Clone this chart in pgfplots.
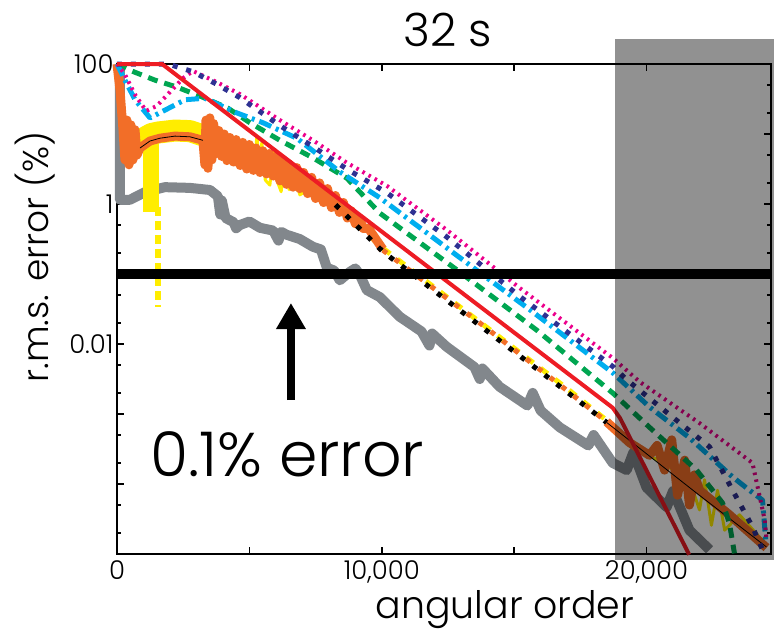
\documentclass[border=0pt]{standalone}
\usepackage{fontspec}
\IfFontExistsTF{Poppins Light}{\setmainfont{Poppins Light}}{\setmainfont{Poppins}}
\usepackage{pgfplots}
\pgfplotsset{compat=1.18}
\usetikzlibrary{arrows.meta}
\definecolor{cpink}{RGB}{236,0,140}
\definecolor{cnavy}{RGB}{46,49,146}
\definecolor{ccyan}{RGB}{0,174,239}
\definecolor{cgreen}{RGB}{0,166,81}
\definecolor{cred}{RGB}{237,28,36}
\definecolor{corange}{RGB}{242,110,40}
\definecolor{cyellow}{RGB}{255,237,0}
\definecolor{cgray}{RGB}{130,135,140}
\begin{document}
\begin{tikzpicture}
\begin{axis}[
  scale only axis, width=654bp, height=490bp,
  xmin=0, xmax=24700, ymin=1e-5, ymax=100, ymode=log,
  clip=false, scaled x ticks=false,
  xtick={0,5000,10000,15000,20000},
  xticklabels={0,,10{,}000,,20{,}000},
  ytick={1e-5,1e-4,1e-3,1e-2,1e-1,1,10,100},
  yticklabels={,,,0.01,,1,,100},
  minor ytick={2e-5,5e-5,2e-4,5e-4,2e-3,5e-3,2e-2,5e-2,0.2,0.5,2,5,20,50},
  tick align=inside,
  major tick length=7bp, minor tick length=4bp,
  tick style={black, line width=1.5bp},
  axis line style={line width=1.5bp},
  ticklabel style={font=\fontsize{26}{26}\selectfont},
  xticklabel style={yshift=-3bp},
  every axis plot/.append style={line join=round},
]
% gray
\addplot[cgray, line width=10bp] coordinates {
(113,100) (113,1.15) (490,1.15) (1060,1.48) (1810,1.74) (2755,1.70) (3510,1.585)
(3810,1.29) (3900,0.708) (3960,1.12) (4100,0.631) (4400,0.55) (4500,0.45) (4640,0.501) (5000,0.562)
(5400,0.457) (5900,0.417) (6100,0.30) (6200,0.40) (6415,0.363) (6900,0.316) (7400,0.245)
(7700,0.224) (7925,0.123) (8200,0.112) (8415,0.0813) (8790,0.107) (9000,0.12)
(9170,0.0977) (9435,0.0589) (9925,0.0468) (10680,0.0245) (11500,0.0151)
(11800,0.0095) (11900,0.0141) (12450,0.00912) (13500,0.00468) (13700,0.00316)
(13800,0.00447) (14450,0.00245) (15500,0.00132) (15700,0.002) (16000,0.00112)
(16720,6.46e-4) (17800,3.55e-4) (18000,5.01e-4) (18720,2.0e-4) (19250,1.58e-4)
(19500,2.82e-4) (20000,8.91e-5) (20760,4.68e-5) (21000,7.94e-5) (21620,2.19e-5)
(22380,1.15e-5)};
% yellow early band
\addplot[cyellow, line width=22bp] coordinates {
(868,7.41) (1057,8.91) (1300,10.0) (1547,10.5) (2189,11.2) (2755,11.0) (3245,9.55)};
\addplot[cyellow, line width=16bp] coordinates {(1300,10.0) (1300,0.776)};
\addplot[cyellow, line width=6bp, dash pattern=on 9bp off 5bp] coordinates {(1547,0.9) (1547,0.0339)};
% yellow mid noisy
\addplot[cyellow, line width=3bp] coordinates {
(3245,9.55) (3400,5.0) (3700,12.0) (4265,5.89) (4700,8.0) (5020,6.92) (5200,4.0) (5285,9.5) (5370,3.5)
(5470,7.5) (5600,2.2) (5774,1.86) (5900,5.5) (6076,2.0) (6200,1.5) (6340,4.5) (6500,1.6) (6600,3.6) (6906,1.35) (7470,1.86) (8040,1.15)};
\addplot[cyellow, line width=5bp, dash pattern=on 9bp off 9bp] coordinates {
(8040,1.15) (10040,0.234) (16980,0.00234) (18720,6.92e-4)};
\addplot[cyellow, line width=3bp] coordinates {
(18720,6.92e-4) (20110,2.57e-4) (21620,1.15e-4) (22000,4.27e-5) (22190,1.15e-4)
(22450,2.57e-5) (22680,8.13e-5) (22950,2.19e-5) (23510,3.63e-5) (24530,1.35e-5)};
% orange
\addplot[corange, line width=9bp] coordinates {
(0,100) (113,42.7) (226,11.5) (300,4.27) (377,15.8) (453,3.63) (528,13.5) (604,4.27)
(680,11.5) (755,5.01) (868,6.31) (1245,7.94) (1623,8.71) (2189,9.33) (2755,9.12)
(3245,8.13) (3320,3.63) (3360,15.8) (3434,3.24) (3510,17.0) (3585,4.27) (3650,14.1)
(3750,5.25) (3850,11.2) (3950,4.79) (4050,10.0) (4150,4.17) (4265,8.91) (4400,3.98)
(4500,8.32) (4650,3.55) (4750,7.59) (4900,3.16) (5000,7.08) (5150,3.02) (5250,6.31)
(5400,2.82) (5510,5.75) (5650,2.69) (5750,5.25) (5900,2.51) (6000,4.79) (6150,2.14)
(6250,4.17) (6400,1.91) (6500,3.72) (6650,1.74) (6790,3.31) (6900,1.66) (7050,2.82)
(7200,1.41) (7350,2.40) (7500,1.20) (7650,2.0) (7800,1.05) (7950,1.66) (8100,0.891)
(8250,1.32) (8400,0.759) (8550,1.05) (8700,0.631) (8850,0.794) (9000,0.525)
(9150,0.631) (9300,0.447) (9500,0.447) (10040,0.226)};
\addplot[corange, line width=5bp, dash pattern=on 5bp off 10bp] coordinates {
(10040,0.219) (13700,0.02) (16980,0.00219) (18490,7.76e-4)};
\addplot[corange, line width=9bp] coordinates {
(18490,7.76e-4) (19360,3.89e-4) (20110,2.57e-4) (20400,3.55e-4) (20680,1.58e-4)
(20950,4.27e-4) (21170,6.92e-5) (21440,2.19e-4) (21620,5.01e-5) (21810,1.35e-4)
(22000,8.13e-5) (23130,3.63e-5) (24530,1.23e-5)};
% black
\addplot[black, line width=0.8bp] coordinates {
(868,6.31) (1245,7.94) (1623,8.71) (2189,9.33) (2755,9.12) (3245,8.13)};
\addplot[black, line width=5bp, dash pattern=on 5bp off 10bp, dash phase=7bp] coordinates {
(8040,1.17) (10040,0.209) (16980,0.00209) (18490,7.59e-4)};
\addplot[black, line width=0.8bp] coordinates {
(18490,7.59e-4) (21890,7.41e-5) (24530,1.26e-5)};
% green
\addplot[cgreen, line width=5bp, dash pattern=on 10bp off 7bp] coordinates {
(0,100) (490,81.3) (1430,58.9) (2260,46.8) (3210,33.9) (4190,23.4) (5020,14.5)
(6150,8.13) (7400,4.57) (8680,2.34) (9925,0.741) (12830,0.115) (15850,0.0158)
(18720,0.002) (20110,6.46e-4) (21890,1.58e-4) (22870,5.37e-5) (23130,2.75e-5) (23320,1.02e-5)};
% cyan
\addplot[ccyan, line width=5bp, dash pattern=on 13bp off 5bp on 3bp off 5bp] coordinates {
(0,100) (300,58.9) (680,30.9) (1245,17.0) (1810,21.9) (2570,30.9) (3320,32.4)
(4530,20.0) (5510,14.5) (6790,8.71) (8415,2.88) (9925,1.23) (13810,0.0977)
(15590,0.0309) (18720,0.00389) (20110,0.00126) (21620,4.57e-4) (23250,1.26e-4)
(23890,8.13e-5) (24380,5.89e-5) (24500,1.58e-5)};
% pink
\addplot[cpink, line width=4bp, dash pattern=on 2.5bp off 4.5bp] coordinates {
(0,100) (300,70.8) (700,35.5) (1100,21.4) (1500,25.1) (2000,39.8) (2500,63.1)
(2870,79.4) (3770,55.0) (4640,37.2) (6150,15.8) (7400,8.13) (8680,3.89)
(10190,1.82) (12450,0.427) (15210,0.0631) (18720,0.00631) (19740,0.00288)
(22000,7.41e-4) (24000,2.0e-4) (24460,3.09e-5) (24530,1.58e-5)};
% navy
\addplot[cnavy, line width=5bp, dash pattern=on 5bp off 9bp] coordinates {
(0,100) (1925,100) (2870,77.6) (3770,51.3) (4640,33.1) (6150,13.2) (7400,6.61)
(8680,3.16) (10190,1.45) (12450,0.339) (15210,0.0479) (18720,0.00479)
(19250,0.00309) (20870,9.77e-4) (22380,3.39e-4) (23250,8.13e-5) (24000,2.45e-5)
(24380,1.15e-5)};
% red
\addplot[cred, line width=4bp] coordinates {
(0,100) (1700,100) (18720,1.23e-3) (19000,8.71e-4) (21610,9.77e-6)};
% 0.1% line
\addplot[black, line width=10bp] coordinates {(0,0.1) (24700,0.1)};
% shaded region
\fill[black, fill opacity=0.43] (axis cs:18800,227) rectangle (axis cs:24800,8.2e-6);
% arrow and annotation
\draw[line width=8bp, -{Triangle[width=28bp,length=26bp]}] (axis cs:6570,0.00158) -- (axis cs:6570,0.0385);
\node[anchor=base west, inner sep=0, font=\fontsize{62}{62}\selectfont] at (axis cs:1245,1.3e-4) {0.1\% error};
\node[anchor=base, inner sep=0, font=\fontsize{46}{46}\selectfont] at (axis description cs:0.506,1.035) {32 s};
\node[anchor=base, inner sep=0, font=\fontsize{38}{38}\selectfont] at (axis description cs:0.593,-0.131) {angular order};
\node[anchor=base, rotate=90, inner sep=0, font=\fontsize{36}{36}\selectfont] at (axis description cs:-0.1055,0.606) {r.m.s. error (\%)};
\end{axis}
\pgfresetboundingbox
\path[use as bounding box] (-117bp,-81bp) rectangle (657bp,554bp);
\end{tikzpicture}
\end{document}
